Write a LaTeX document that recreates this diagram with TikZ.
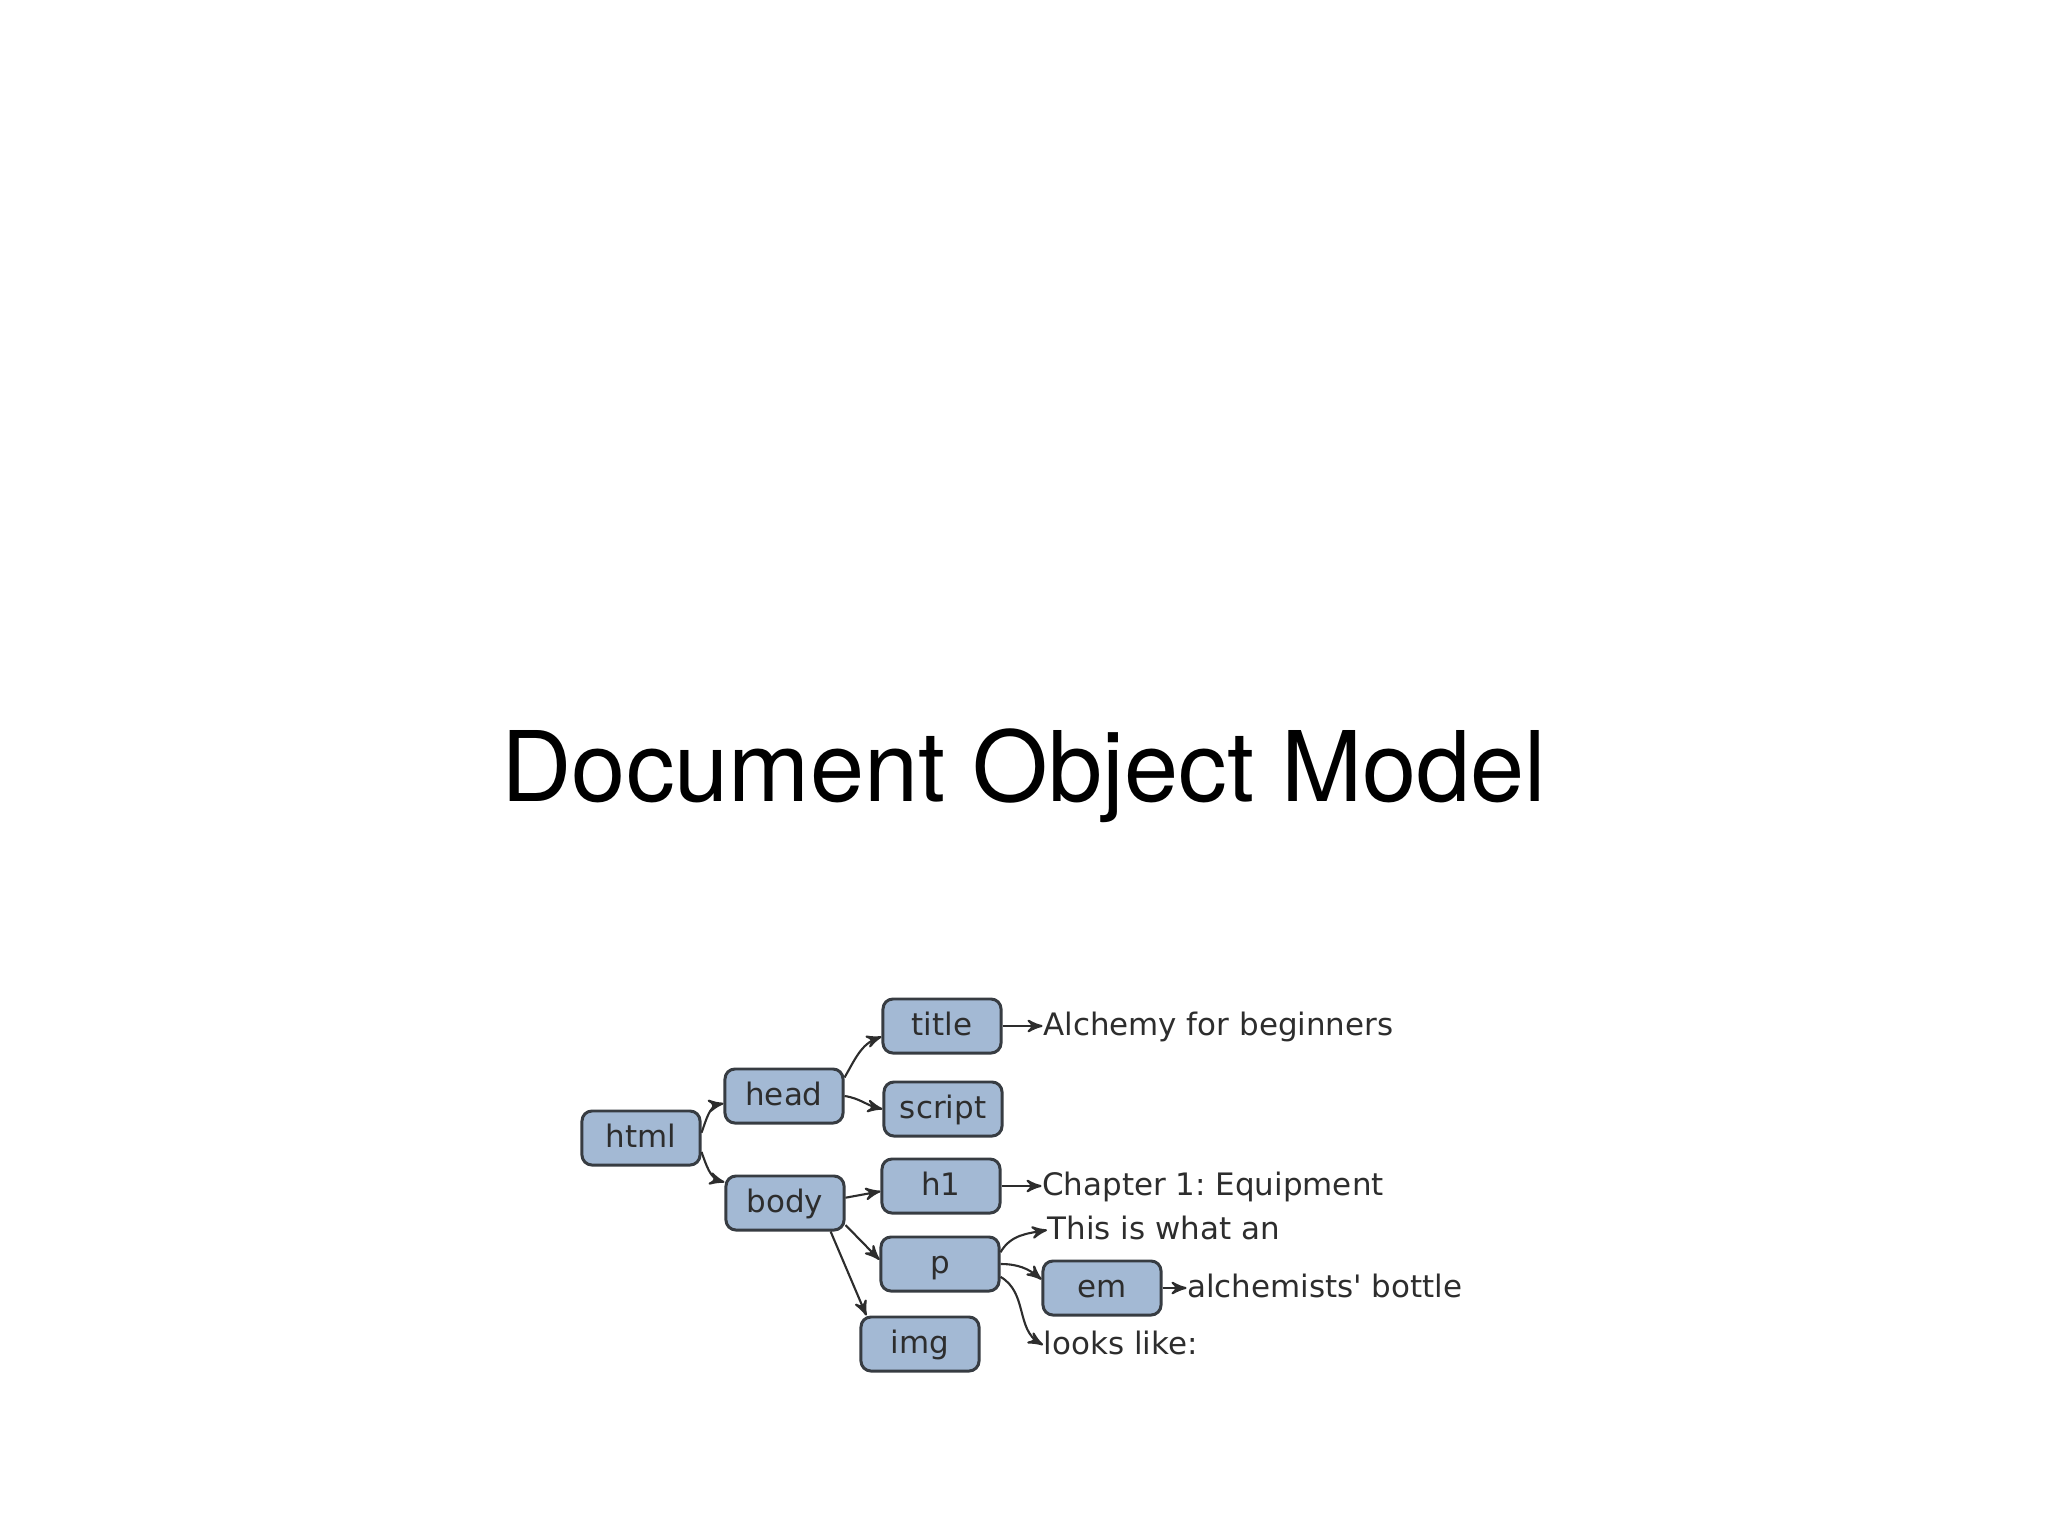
\documentclass[tikz,border=0pt]{standalone}
\usepackage{fontspec}
\setmainfont{DejaVu Sans}
\newfontfamily\headfont{TeX Gyre Heros}
\usetikzlibrary{arrows,positioning}
\definecolor{boxblue}{RGB}{163,185,212}
\definecolor{boxline}{RGB}{55,60,66}
\definecolor{inkgrey}{RGB}{45,45,45}
\frenchspacing
\tikzset{>=stealth',
         element/.style={draw=boxline, fill=boxblue, line width=0.85pt,
           rounded corners=0.1cm, minimum width=1.18cm, minimum height=0.54cm,
           inner sep=0pt, text=inkgrey, text height=0.75em, text depth=0.22em,
           font=\fontsize{8.8}{11}\selectfont},
         leaf/.style={anchor=west, inner sep=0pt, text=inkgrey,
           text height=0.75em, text depth=0.22em, font=\fontsize{8.8}{11}\selectfont},
         link/.style={->, draw=inkgrey, line width=0.6pt}}

\begin{document}
\begin{tikzpicture}[x=0.01cm, y=-0.01cm]
	\useasboundingbox (0,0) rectangle (2048,1536);

	\node (heading) at (1024,776) {\headfont\fontsize{27.7}{33}\selectfont Document Object Model};

	% element boxes
	\node[element] (html)   at (641,1138) {html};
	\node[element] (head)   at (784,1096) {head};
	\node[element] (body)   at (785,1203) {body};
	\node[element] (title)  at (942,1026) {title};
	\node[element] (script) at (943,1109) {script};
	\node[element] (h1)     at (941,1186) {h1};
	\node[element] (p)      at (940,1264) {p};
	\node[element] (img)    at (920,1344) {img};
	\node[element] (em)     at (1102,1288) {em};

	% text leaves
	\node[leaf, right=0.4cm of title] (alchemy) {Alchemy for beginners};
	\node[leaf, right=0.4cm of h1] (chapter) {Chapter 1: Equipment};
	\node[leaf] (thisis) at (1047,1230) {This is what an};
	\node[leaf, right=0.24cm of em] (bottle) {alchemists\textquotesingle\ bottle};
	\node[leaf] (lookslike) at (1043,1345) {looks like:};

	% links
	\draw[link] (html.5) to[out=70, in=190] (head.187);
	\draw[link] (html.-13) to[out=-70, in=165] (body.161);
	\draw[link] (head.17) to[out=60, in=200] (title.190);
	\draw[link] (head.0) to[out=-8, in=168] (script.180);
	\draw[link] (body.5) -- (h1.185);
	\draw[link] (body.-20) -- (p.176);
	\draw[link] (body.-32) -- (img.152);
	\draw[link] (title) -- (alchemy);
	\draw[link] (h1) -- (chapter);
	\draw[link] (em) -- (bottle);
	\draw[link] (p.11) to[out=60, in=190] (thisis.west);
	\draw[link] (p.0) to[out=0, in=140] (em.172);
	\draw[link] (p.-12) to[out=-30, in=150] (lookslike.west);
\end{tikzpicture}
\end{document}
